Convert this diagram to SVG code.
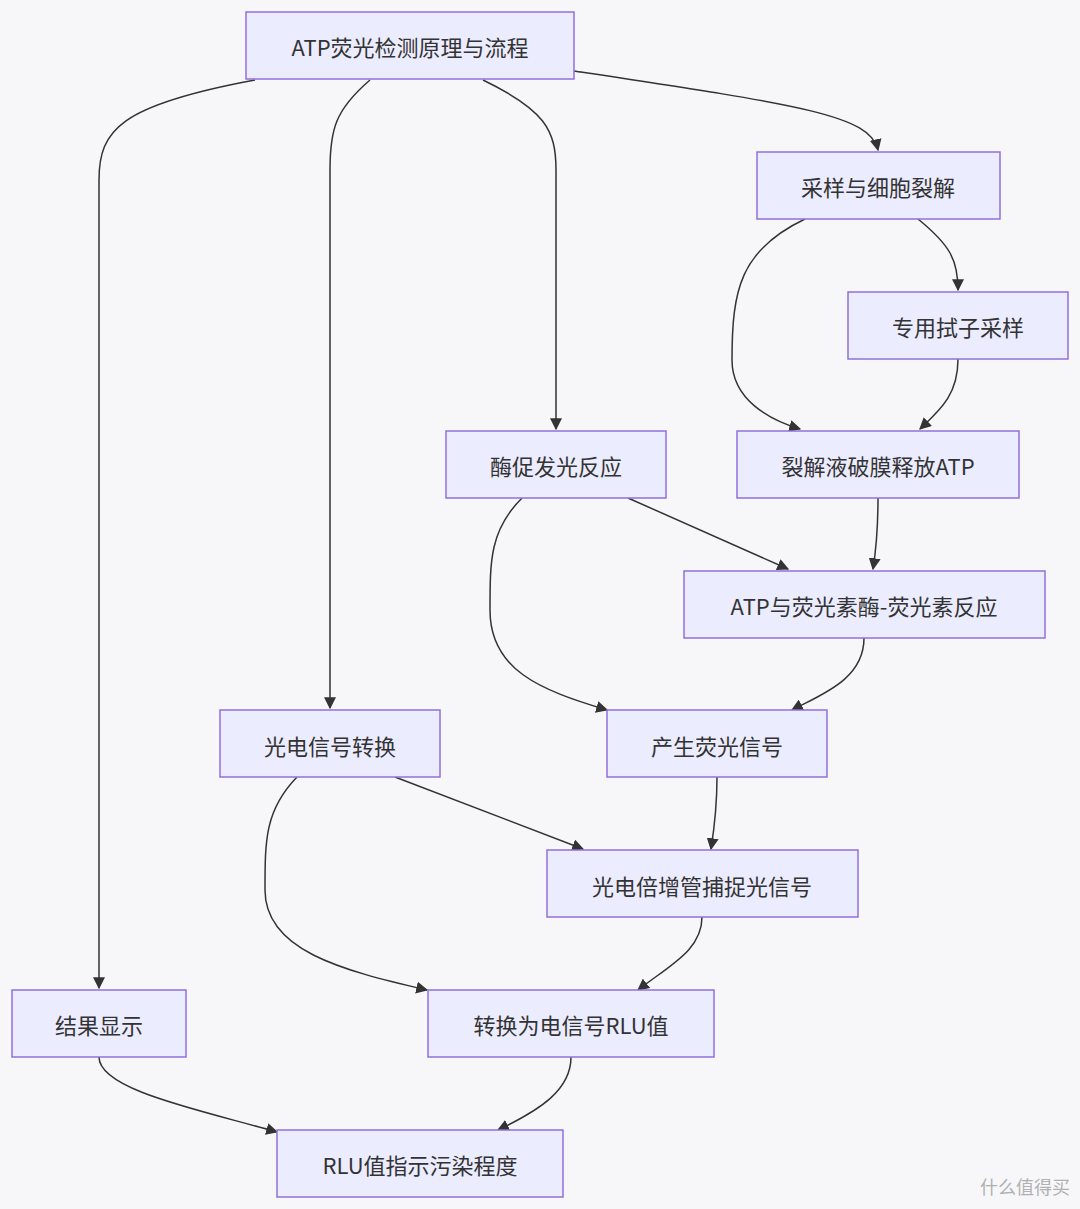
<svg xmlns="http://www.w3.org/2000/svg" width="1080" height="1209" viewBox="0 0 1080 1209">
<style>
.n rect{fill:#ececff;stroke:#9370db;stroke-width:1.5}
.n text{font-family:"Noto Sans CJK SC","Noto Sans",sans-serif;font-size:22px;fill:#333;text-anchor:middle;dominant-baseline:central}
#edges path{fill:none;stroke:#333;stroke-width:1.5;marker-end:url(#a)}
</style>
<defs><marker id="a" viewBox="0 0 10 10" refX="9" refY="5" markerWidth="8" markerHeight="8" orient="auto"><path d="M0,0L10,5L0,10z" fill="#333"/></marker></defs>
<rect width="1080" height="1209" fill="#f7f7f9"/>
<g id="edges">
<path d="M255,80 C120,105 99,130 99,180 L99,988"/>
<path d="M370,80 C335,110 330,130 330,170 L330,708"/>
<path d="M483,80 C545,110 556,130 556,170 L556,429"/>
<path d="M574,71 C800,105 870,115 878,150"/>
<path d="M918,219 C950,245 958,260 958,290"/>
<path d="M805,219 C740,250 732,290 732,360 C732,400 770,420 800,429"/>
<path d="M958,359 C958,395 940,410 920,429"/>
<path d="M628,498 L788,569"/>
<path d="M878,498 C878,530 876,550 873,569"/>
<path d="M522,498 C490,530 490,560 490,610 C490,670 540,690 607,710"/>
<path d="M864,638 C864,680 820,695 792,710"/>
<path d="M395,777 L583,849"/>
<path d="M717,777 C717,810 714,830 711,849"/>
<path d="M297,777 C265,810 265,840 265,890 C265,950 340,970 427,990"/>
<path d="M702,917 C702,950 670,965 638,990"/>
<path d="M99,1057 C99,1090 200,1110 277,1132"/>
<path d="M571,1057 C571,1090 540,1110 498,1130"/>
</g>
<g id="n1" class="n"><rect x="246" y="12" width="328" height="67"/><text x="410" y="46">ATP荧光检测原理与流程</text></g>
<g id="n2" class="n"><rect x="757" y="152" width="243" height="67"/><text x="878" y="186">采样与细胞裂解</text></g>
<g id="n3" class="n"><rect x="848" y="292" width="220" height="67"/><text x="958" y="326">专用拭子采样</text></g>
<g id="n4" class="n"><rect x="446" y="431" width="220" height="67"/><text x="556" y="465">酶促发光反应</text></g>
<g id="n5" class="n"><rect x="737" y="431" width="282" height="67"/><text x="878" y="465">裂解液破膜释放ATP</text></g>
<g id="n6" class="n"><rect x="684" y="571" width="361" height="67"/><text x="864" y="605">ATP与荧光素酶-荧光素反应</text></g>
<g id="n7" class="n"><rect x="220" y="710" width="220" height="67"/><text x="330" y="745">光电信号转换</text></g>
<g id="n8" class="n"><rect x="607" y="710" width="220" height="67"/><text x="717" y="745">产生荧光信号</text></g>
<g id="n9" class="n"><rect x="547" y="850" width="311" height="67"/><text x="702" y="885">光电倍增管捕捉光信号</text></g>
<g id="n10" class="n"><rect x="12" y="990" width="174" height="67"/><text x="99" y="1024">结果显示</text></g>
<g id="n11" class="n"><rect x="428" y="990" width="286" height="67"/><text x="571" y="1024">转换为电信号RLU值</text></g>
<g id="n12" class="n"><rect x="277" y="1130" width="286" height="67"/><text x="420" y="1164">RLU值指示污染程度</text></g>
<text x="1070" y="1194" text-anchor="end" font-family="Noto Sans CJK SC,sans-serif" font-size="18" fill="#b0b0b0">什么值得买</text>
</svg>
